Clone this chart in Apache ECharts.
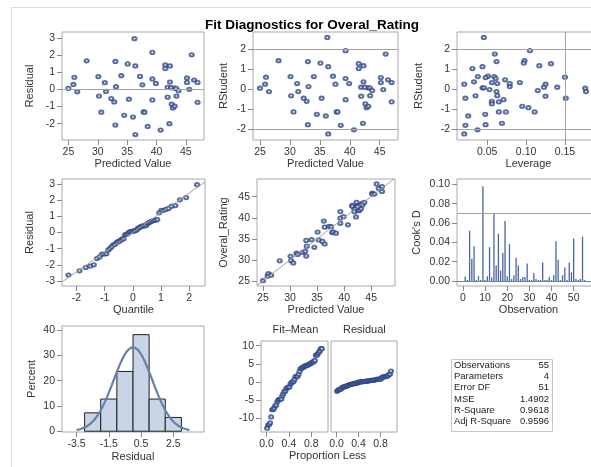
<!DOCTYPE html>
<html>
<head>
<meta charset="utf-8">
<script src="https://cdn.jsdelivr.net/npm/echarts@6/dist/echarts.min.js"></script>
<style>
html, body { margin: 0; padding: 0; background: #fff; }
#chart { width: 591px; height: 467px; }
</style>
</head>
<body>
<div id="chart"></div>
<script>
// per-observation values (observation order 1..55 for cooksD only)
var predicted = [25.0, 25.85, 26.0, 26.5, 28.1, 30.1, 30.2, 30.6, 31.2, 31.4,
    32.3, 32.8, 33.0, 33.1, 33.0, 34.0, 34.5, 35.1, 35.3, 36.25,
    36.4, 36.0, 36.4, 37.2, 37.6, 37.8, 37.95, 38.5, 39.3, 39.3,
    39.9, 39.3, 40.7, 41.5, 41.5, 42.3, 42.3, 41.9, 41.9, 42.2,
    42.6, 42.8, 43.1, 43.0, 43.35, 43.4, 43.75, 45.2, 45.2, 45.6,
    46.0, 46.4, 47.0, 47.0, 42.5];
var residual = [0.06, 0.29, 0.71, -0.14, 1.67, 0.75, -0.39, -1.33, 0.39, -0.12,
    -0.53, -0.73, 1.63, 0.16, -2.08, 0.8, -1.51, 1.49, -0.57, 2.96,
    1.37, -1.61, -2.63, 0.76, 0.27, -1.31, -1.33, -2.16, 0.61, 2.16,
    0.35, -0.61, -2.37, 1.43, 1.22, 1.37, 0.43, 0.12, -0.45, -2.0,
    -0.86, -1.08, -0.98, 0.08, 0.06, -0.39, -0.08, 0.67, 0.41, 0.01,
    2.02, 0.55, 0.41, -0.75, 0.1];
var rstudent = [0.05, 0.25, 0.6, -0.12, 1.42, 0.63, -0.33, -1.13, 0.28, -0.12,
    -0.45, -0.6, 1.38, 0.13, -1.77, 0.63, -1.25, 1.3, -0.45, 2.58,
    1.12, -1.33, -2.23, 0.65, 0.25, -1.13, -1.13, -1.8, 0.53, 1.92,
    0.28, -0.52, -2.02, 1.27, 1.03, 1.17, 0.37, 0.1, -0.35, -1.7,
    -0.73, -0.92, -0.85, 0.07, 0.07, -0.32, -0.07, 0.58, 0.33, -0.02,
    1.75, 0.47, 0.33, -0.63, 0.1];
var leverage = [0.176, 0.0205, 0.15, 0.177, 0.098, 0.038, 0.035, 0.111, 0.063, 0.062,
    0.022, 0.056, 0.062, 0.079, 0.048, 0.059, 0.0475, 0.097, 0.151, 0.0457,
    0.044, 0.0256, 0.0205, 0.051, 0.125, 0.065, 0.074, 0.022, 0.061, 0.105,
    0.079, 0.071, 0.0376, 0.132, 0.031, 0.117, 0.033, 0.14, 0.125, 0.069,
    0.056, 0.103, 0.095, 0.044, 0.0457, 0.063, 0.115, 0.048, 0.056, 0.053,
    0.0598, 0.073, 0.092, 0.065, 0.123];
var cooksD = [0.0045, 0.001, 0.052, 0.023, 0.036, 0.001, 0.005, 0.001, 0.098, 0.001,
    0.005, 0.035, 0.0035, 0.070, 0.016, 0.049, 0.011, 0.029, 0.062, 0.005,
    0.038, 0.002, 0.006, 0.024, 0.016, 0.002, 0.004, 0.004, 0.018, 0.001,
    0.001, 0.008, 0.002, 0.001, 0.001, 0.019, 0.001, 0.001, 0.004, 0.001,
    0.006, 0.041, 0.022, 0.001, 0.006, 0.014, 0.001, 0.019, 0.009, 0.044,
    0.002, 0.001, 0.002, 0.046, 0.001];

var statLabels = ['Observations', 'Parameters', 'Error DF', 'MSE', 'R-Square', 'Adj R-Square'];
var statValues = ['55', '4', '51', '1.4902', '0.9618', '0.9596'];
var nObs = 55, nParams = 4, mse = 1.4902;

var histEdges = [-3, -2, -1, 0, 1, 2, 3];

// tick labels
var predTicks = [25, 30, 35, 40, 45];
var residTicks = [-2, -1, 0, 1, 2, 3];
var rstudTicks = [-2, -1, 0, 1, 2];
var levTicks = [0.05, 0.10, 0.15];
var quantTicks = [-2, -1, 0, 1, 2];
var qqTicks = [-3, -2, -1, 0, 1, 2, 3];
var ratingTicks = [25, 30, 35, 40, 45];
var cookTicks = [0, 0.02, 0.04, 0.06, 0.08, 0.10];
var obsTicks = [0, 10, 20, 30, 40, 50];
var pctTicks = [0, 10, 20, 30, 40];
var histTicks = [-3.5, -1.5, 0.5, 2.5];
var spreadTicks = [-10, -5, 0, 5, 10];
var propTicks = [0, 0.4, 0.8];

var FONT = '"Liberation Sans", Arial, sans-serif';
var MARK = '#2f4a8a';
var REF = '#a3a3a3';

// inverse normal cdf (Acklam)
function qnorm(p) {
    var a = [-39.6968302866538, 220.946098424521, -275.928510446969, 138.357751867269, -30.6647980661472, 2.50662827745924];
    var b = [-54.4760987982241, 161.585836858041, -155.698979859887, 66.8013118877197, -13.2806815528857];
    var c = [-0.00778489400243029, -0.322396458041136, -2.40075827716184, -2.54973253934373, 4.37466414146497, 2.93816398269878];
    var d = [0.00778469570904146, 0.32246712907004, 2.445134137143, 3.75440866190742];
    var q, r;
    if (p < 0.02425) {
        q = Math.sqrt(-2 * Math.log(p));
        return (((((c[0] * q + c[1]) * q + c[2]) * q + c[3]) * q + c[4]) * q + c[5]) / ((((d[0] * q + d[1]) * q + d[2]) * q + d[3]) * q + 1);
    } else if (p > 1 - 0.02425) {
        q = Math.sqrt(-2 * Math.log(1 - p));
        return -(((((c[0] * q + c[1]) * q + c[2]) * q + c[3]) * q + c[4]) * q + c[5]) / ((((d[0] * q + d[1]) * q + d[2]) * q + d[3]) * q + 1);
    }
    q = p - 0.5; r = q * q;
    return (((((a[0] * r + a[1]) * r + a[2]) * r + a[3]) * r + a[4]) * r + a[5]) * q / (((((b[0] * r + b[1]) * r + b[2]) * r + b[3]) * r + b[4]) * r + 1);
}

var n = predicted.length;
var sortedResid = residual.slice().sort(function (a, b) { return a - b; });
var predMean = predicted.reduce(function (s, v) { return s + v; }, 0) / n;
var sortedFit = predicted.map(function (p) { return p - predMean; }).sort(function (a, b) { return a - b; });
var residSd = Math.sqrt(residual.reduce(function (s, v) { return s + v * v; }, 0) / (n - 1));
var rmse = Math.sqrt(mse);

// histogram percents
var histData = [];
for (var i = 0; i < histEdges.length - 1; i++) {
    var cnt = residual.filter(function (r) { return r >= histEdges[i] && r < histEdges[i + 1]; }).length;
    histData.push([histEdges[i], histEdges[i + 1], cnt / n * 100]);
}
var binW = histEdges[1] - histEdges[0];
var normalCurve = [];
for (var x = -3.5; x <= 3.5001; x += 0.05) {
    normalCurve.push([x, 100 * binW * Math.exp(-x * x / (2 * residSd * residSd)) / (residSd * Math.sqrt(2 * Math.PI))]);
}

// panel frames: [left, top, right, bottom]
var boxes = [
    [62, 32, 204, 140], [253, 32, 398, 140], [457, 32, 600, 140],
    [62, 179, 205, 286], [257, 179, 395, 286], [457, 179, 600, 286],
    [62, 326, 204, 432], [261, 341, 328, 432], [331, 341, 397, 432]
];
var grids = boxes.map(function (b) {
    return { left: b[0], top: b[1], width: b[2] - b[0], height: b[3] - b[1],
        show: true, borderColor: '#a8a8a8', borderWidth: 1, backgroundColor: 'transparent',
        containLabel: false, outerBoundsMode: 'none' };
});

function axis(grid, min, max, ticks, digits, name, gap) {
    return {
        type: 'value', gridIndex: grid, min: min, max: max,
        axisLine: { show: false, onZero: false }, splitLine: { show: false },
        axisTick: { show: !!ticks, length: 5, customValues: ticks || [], lineStyle: { color: '#8a8a8a' } },
        axisLabel: { show: !!ticks, customValues: ticks || [], margin: 7, fontSize: 10.5, color: '#333', fontFamily: FONT,
            formatter: function (v) { return (+v).toFixed(digits); } },
        name: name || '', nameLocation: 'middle', nameGap: gap || 0,
        nameTextStyle: { fontSize: 11, color: '#333', fontFamily: FONT }
    };
}

function refLines(lines) {
    return { silent: true, symbol: 'none', label: { show: false }, animation: false,
        lineStyle: { color: REF, width: 1, type: 'solid' }, emphasis: { disabled: true }, data: lines };
}

function scatter(idx, data, mark) {
    return { type: 'scatter', xAxisIndex: idx, yAxisIndex: idx, data: data,
        symbol: 'emptyCircle', symbolSize: [4, 3.4], itemStyle: { color: MARK, borderWidth: 1 },
        markLine: mark ? refLines(mark) : undefined };
}

var levCut = 2 * nParams / nObs;
var cookCut = 4 / nObs;
var qqX = [-2.51, 2.56];
var diag = [23.9, 49.2];

var option = {
    animation: false,
    backgroundColor: '#fff',
    title: { text: 'Fit Diagnostics for Overal_Rating', left: 307, top: 13, textAlign: 'center',
        textStyle: { fontSize: 13.5, fontWeight: 'bold', color: '#000', fontFamily: FONT } },
    grid: grids,
    xAxis: [
        axis(0, 23.9, 48.1, predTicks, 0, 'Predicted Value', 18),
        axis(1, 23.83, 48.06, predTicks, 0, 'Predicted Value', 18),
        axis(2, 0.0112, 0.195, levTicks, 2, 'Leverage', 18),
        axis(3, -2.51, 2.56, quantTicks, 0, 'Quantile', 17),
        axis(4, 23.9, 49.4, predTicks, 0, 'Predicted Value', 17),
        axis(5, -2.7, 61.9, obsTicks, 0, 'Observation', 17),
        axis(6, -4.4, 4.4, histTicks, 1, 'Residual', 19),
        axis(7, -0.1, 1.1, propTicks, 1),
        axis(8, -0.1, 1.1, propTicks, 1)
    ],
    yAxis: [
        axis(0, -2.95, 3.35, residTicks, 0, 'Residual', 27),
        axis(1, -2.53, 2.85, rstudTicks, 0, 'RStudent', 24),
        axis(2, -2.53, 2.85, rstudTicks, 0, 'RStudent', 33),
        axis(3, -3.31, 3.31, qqTicks, 0, 'Residual', 27),
        axis(4, 23.8, 49.2, ratingTicks, 0, 'Overal_Rating', 28),
        axis(5, -0.0052, 0.1055, cookTicks, 2, "Cook's D", 35),
        axis(6, -0.3, 41.6, pctTicks, 0, 'Percent', 25),
        axis(7, -13.9, 11.3, spreadTicks, 0),
        axis(8, -13.9, 11.3, null, 0)
    ],
    series: [
        scatter(0, predicted.map(function (p, i) { return [p, residual[i]]; }), [{ yAxis: 0 }]),
        scatter(1, predicted.map(function (p, i) { return [p, rstudent[i]]; }), [{ yAxis: -2 }, { yAxis: 2 }]),
        scatter(2, leverage.map(function (h, i) { return [h, rstudent[i]]; }), [{ yAxis: -2 }, { yAxis: 2 }, { xAxis: levCut }]),
        scatter(3, sortedResid.map(function (r, i) { return [qnorm((i + 1 - 0.375) / (n + 0.25)), r]; }),
            [[{ coord: [qqX[0], rmse * qqX[0]] }, { coord: [qqX[1], rmse * qqX[1]] }]]),
        scatter(4, predicted.map(function (p, i) { return [p, p + residual[i]]; }),
            [[{ coord: [diag[0], diag[0]] }, { coord: [diag[1], diag[1]] }]]),
        {
            type: 'bar', xAxisIndex: 5, yAxisIndex: 5, barWidth: 1.3,
            data: cooksD.map(function (v, i) { return [i + 1, v]; }),
            itemStyle: { color: '#4b66a0' },
            markLine: refLines([{ yAxis: cookCut }, { yAxis: 0, lineStyle: { color: '#6d7fa6' } }])
        },
        {
            type: 'custom', xAxisIndex: 6, yAxisIndex: 6, data: histData,
            encode: { x: [0, 1], y: 2 },
            renderItem: function (params, api) {
                var p1 = api.coord([api.value(0), api.value(2)]);
                var p2 = api.coord([api.value(1), 0]);
                return { type: 'rect', shape: { x: p1[0], y: p1[1], width: p2[0] - p1[0], height: p2[1] - p1[1] },
                    style: { fill: '#c9d4e6', stroke: '#202020', lineWidth: 1 } };
            }
        },
        {
            type: 'line', xAxisIndex: 6, yAxisIndex: 6, data: normalCurve, showSymbol: false,
            lineStyle: { color: '#6580ad', width: 2.2 }, z: 3
        },
        scatter(7, sortedFit.map(function (v, i) { return [(i + 0.5) / n, v]; })),
        scatter(8, sortedResid.map(function (v, i) { return [(i + 0.5) / n, v]; }))
    ],
    graphic: [
        { type: 'rect', z: -10, silent: true, shape: { x: 11.5, y: 7.5, width: 640, height: 520 },
            style: { fill: 'none', stroke: '#dcdcdc', lineWidth: 1 } },
        { type: 'text', left: 294.5 - 22, top: 324, style: { text: 'Fit\u2013Mean', font: '11px ' + FONT, fill: '#333' } },
        { type: 'text', left: 364 - 21, top: 324, style: { text: 'Residual', font: '11px ' + FONT, fill: '#333' } },
        { type: 'text', left: 329 - 40, top: 450, style: { text: 'Proportion Less', font: '11px ' + FONT, fill: '#333' } },
        {
            type: 'group', left: 451, top: 359,
            children: [
                { type: 'rect', shape: { x: 0.5, y: 0.5, width: 101, height: 72 },
                    style: { fill: '#fff', stroke: '#c8c8c8', lineWidth: 1 } }
            ].concat(statLabels.map(function (lab, i) {
                return { type: 'text', x: 3, y: 6 + i * 11.3,
                    style: { text: lab, font: '9.5px ' + FONT, fill: '#222', verticalAlign: 'middle' } };
            })).concat(statValues.map(function (val, i) {
                return { type: 'text', x: 98, y: 6 + i * 11.3,
                    style: { text: val, font: '9.5px ' + FONT, fill: '#222', align: 'right', verticalAlign: 'middle' } };
            }))
        }
    ]
};

var myChart = echarts.init(document.getElementById('chart'));
myChart.setOption(option);
</script>
</body>
</html>
